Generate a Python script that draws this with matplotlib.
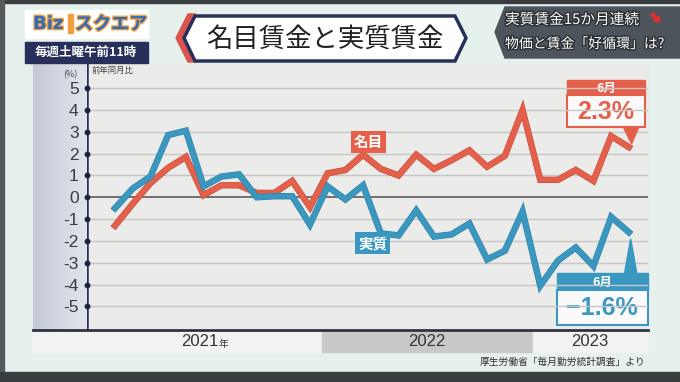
import matplotlib
matplotlib.use("Agg")
import matplotlib.pyplot as plt
import matplotlib.patheffects as pe
from matplotlib.patches import Rectangle, Polygon, FancyArrow
import numpy as np

plt.rcParams['font.family'] = ['Noto Sans CJK JP', 'DejaVu Sans']

# months: Jan 2021 .. Jun 2023 (year-on-year change, %)
months = list(range(30))
nominal = [-1.3, -0.3, 0.65, 1.35, 1.85, 0.1, 0.55, 0.55, 0.2, 0.2, 0.75, -0.45,
           1.1, 1.25, 1.95, 1.3, 1.0, 1.95, 1.3, 1.7, 2.15, 1.4, 1.9, 4.0,
           0.8, 0.8, 1.25, 0.75, 2.8, 2.3]
real = [-0.5, 0.4, 0.95, 2.85, 3.05, 0.5, 0.95, 1.05, 0.0, 0.05, 0.05, -1.25,
        0.5, -0.1, 0.55, -1.65, -1.75, -0.6, -1.8, -1.7, -1.2, -2.85, -2.45, -0.65,
        -4.05, -2.9, -2.3, -3.15, -0.9, -1.6]
yticks = [5, 4, 3, 2, 1, 0, -1, -2, -3, -4, -5]
years = ["2021", "2022", "2023"]

RED = '#e4604a'
BLUE = '#3a97c0'
NAVY = '#27305a'
W, H = 680, 382

fig = plt.figure(figsize=(6.8, 3.82), dpi=100)
fig.patch.set_facecolor('#e6f1ed')

# background layer in pixel coordinates
bg = fig.add_axes([0, 0, 1, 1])
bg.set_xlim(0, W)
bg.set_ylim(H, 0)
bg.axis('off')

# tv frame edges
bg.add_patch(Rectangle((0, 0), W, 3, color='#3a3d40'))
bg.add_patch(Rectangle((0, 0), 4, H, color='#55595c'))
bg.add_patch(Rectangle((0, 372), W, 10, color='#3b3e41'))

# chart panel
bg.add_patch(Rectangle((33, 64), 615, 266, color='#ebebea', zorder=1))
grad = np.linspace(0, 1, 50).reshape(1, -1)
bg.imshow(grad, extent=(33, 87, 330, 64), cmap=matplotlib.colors.LinearSegmentedColormap.from_list(
    'g', ['#c6cad8', '#e2e4ea']), aspect='auto', zorder=2)
bg.plot([33, 648], [330, 330], color='#2e3340', lw=2, zorder=3)

# year band
bands = [(33, 322, '#f2f2f2'), (322, 533, '#c9c9c9'), (533, 648, '#f2f2f2')]
for x0, x1, c in bands:
    bg.add_patch(Rectangle((x0, 331), x1 - x0, 21, color=c, zorder=2))
num_font = ['Liberation Sans', 'Noto Sans CJK JP']
bg.text(218, 342, years[0], fontsize=12, color='#333333', va='center', ha='right',
        family=num_font, zorder=4)
bg.text(219, 343.5, '年', fontsize=7, color='#333333', va='center', ha='left', zorder=4)
bg.text(427, 342, years[1], fontsize=12, color='#333333', va='center', ha='center',
        family=num_font, zorder=4)
bg.text(590, 342, years[2], fontsize=12, color='#333333', va='center', ha='center',
        family=num_font, zorder=4)
bg.text(645, 362, '厚生労働省「毎月勤労統計調査」より', fontsize=7, color='#333333',
        ha='right', va='center', zorder=4)

# logo
bg.add_patch(Rectangle((25, 10), 123, 28, color='white', zorder=3))
bg.text(33, 24, 'Biz', fontsize=13, color='#2e6bbf', weight='bold', va='center',
        family=['DejaVu Sans'], zorder=4,
        path_effects=[pe.withStroke(linewidth=2, foreground='#f0a040')])
bg.add_patch(Rectangle((68, 14), 5, 19, color='#f0a040', zorder=4))
bg.text(75, 24, 'スクエア', fontsize=13, color='#2e6bbf', weight='bold', va='center', zorder=4,
        path_effects=[pe.withStroke(linewidth=2, foreground='#f0a040')])
bg.add_patch(Rectangle((25, 42), 123, 21, color=NAVY, zorder=3))
bg.text(86, 52, '毎週土曜午前11時', fontsize=9, color='white', weight='bold',
        ha='center', va='center', zorder=4)

# title
bg.add_patch(Polygon([(176, 38), (188, 14), (196, 14), (184, 38), (196, 62), (188, 62)],
                     closed=True, color='#d9534f', zorder=3))
bg.add_patch(Polygon([(184, 38), (195, 16), (455, 16), (466, 38), (455, 61), (195, 61)],
                     closed=True, facecolor='white', edgecolor=NAVY, lw=2.5, zorder=3))
bg.text(325, 39, '名目賃金と実質賃金', fontsize=19, color='#222222', ha='center',
        va='center', zorder=4)

# right header
bg.add_patch(Polygon([(495, 32), (505, 7), (680, 7), (680, 58), (505, 58)],
                     closed=True, color='#4e545c', zorder=3))
stroke = [pe.withStroke(linewidth=2, foreground='#2a2d31')]
bg.text(505, 20, '実質賃金15か月連続', fontsize=10.6, color='white', va='center',
        zorder=4, path_effects=stroke)
bg.add_patch(FancyArrow(652, 14, 8, 8, width=3, head_width=7, head_length=5,
                        length_includes_head=True, color='#e03030', zorder=4))
bg.text(505, 44, '物価と賃金「好循環」は?', fontsize=10, color='white', va='center',
        zorder=4, path_effects=stroke)

# axis labels
bg.text(70, 75, '(%)', fontsize=6.5, color='#444444', ha='center', va='center', zorder=4)
bg.text(92, 70, '前年同月比', fontsize=6, color='#444444', ha='left', va='center', zorder=4)

# data axes, pixel-aligned
x0p, x1p, y0p, y1p = 87, 648, 64, 330
ax = fig.add_axes([x0p / W, (H - y1p) / H, (x1p - x0p) / W, (y1p - y0p) / H])
ax.patch.set_alpha(0)
step = 17.72
ax.set_xlim((x0p - 115) / step, (x1p - 115) / step)
unit = 21.83
ax.set_ylim((197.3 - y1p) / unit, (197.3 - y0p) / unit)
for s in ax.spines.values():
    s.set_visible(False)
ax.set_xticks([])
ax.set_yticks(yticks)
ax.set_yticklabels([str(v) for v in yticks], family=['Liberation Sans', 'DejaVu Sans'])
ax.tick_params(axis='y', length=0, pad=6, labelsize=12.5, labelcolor='#3a3a44')
for v in yticks:
    ax.axhline(v, color='#707070' if v == 0 else '#c6c6c6', lw=1.4 if v == 0 else 1, zorder=1)
ax.axvline(ax.get_xlim()[0], color=NAVY, lw=1.8, zorder=2)
ax.plot([ax.get_xlim()[0]] * len(yticks), yticks, 'o', color='#1e2340', ms=3.2,
        clip_on=False, zorder=3)

ax.plot(months, nominal, color=RED, lw=3.8, solid_joinstyle='miter', zorder=4,
        path_effects=[pe.withStroke(linewidth=4.6, foreground='#c04a38')])
ax.plot(months, real, color=BLUE, lw=3.8, solid_joinstyle='miter', zorder=4,
        path_effects=[pe.withStroke(linewidth=4.6, foreground='#2c7ea4')])

# series labels
ax.text(14.3, 2.55, '名目', fontsize=10.5, color='white', weight='bold', ha='center',
        va='center', zorder=6, bbox=dict(boxstyle='square,pad=0.2', fc=RED, ec='none'))
ax.text(14.55, -2.1, '実質', fontsize=10.5, color='white', weight='bold', ha='center',
        va='center', zorder=6, bbox=dict(boxstyle='square,pad=0.2', fc=BLUE, ec='none'))

# last value callouts
last = months[-1]
ax.add_patch(Polygon([(last - 0.3, 3.2), (last + 0.55, 3.2), (last + 0.15, 2.45)],
                     closed=True, color=RED, zorder=5))
bg.add_patch(Rectangle((567, 80), 78, 15, color=RED, zorder=5))
bg.add_patch(Rectangle((567, 95), 78, 32, facecolor='#fafafa', edgecolor=RED, lw=1.5, zorder=5))
bg.text(606, 88, '6月', fontsize=9, color='white', weight='bold', ha='center', va='center', zorder=6)
bg.text(606, 112, f'{nominal[-1]}%', fontsize=18, color=RED, weight='bold', ha='center',
        va='center', family=['Liberation Sans', 'DejaVu Sans'], zorder=6)

ax.add_patch(Polygon([(last - 0.25, -3.5), (last + 0.45, -3.5), (last + 0.1, -1.9)],
                     closed=True, color=BLUE, zorder=5))
bg.add_patch(Rectangle((557, 273), 91, 17, color=BLUE, zorder=5))
bg.add_patch(Rectangle((557, 290), 91, 35, facecolor='#fafafa', edgecolor=BLUE, lw=1.5, zorder=5))
bg.text(602, 282, '6月', fontsize=9, color='white', weight='bold', ha='center', va='center', zorder=6)
bg.text(602, 308, f'\u2212{abs(real[-1])}%', fontsize=18, color=BLUE, weight='bold',
        ha='center', va='center', family=['Liberation Sans', 'DejaVu Sans'], zorder=6)

fig.savefig('out.png', dpi=100)
